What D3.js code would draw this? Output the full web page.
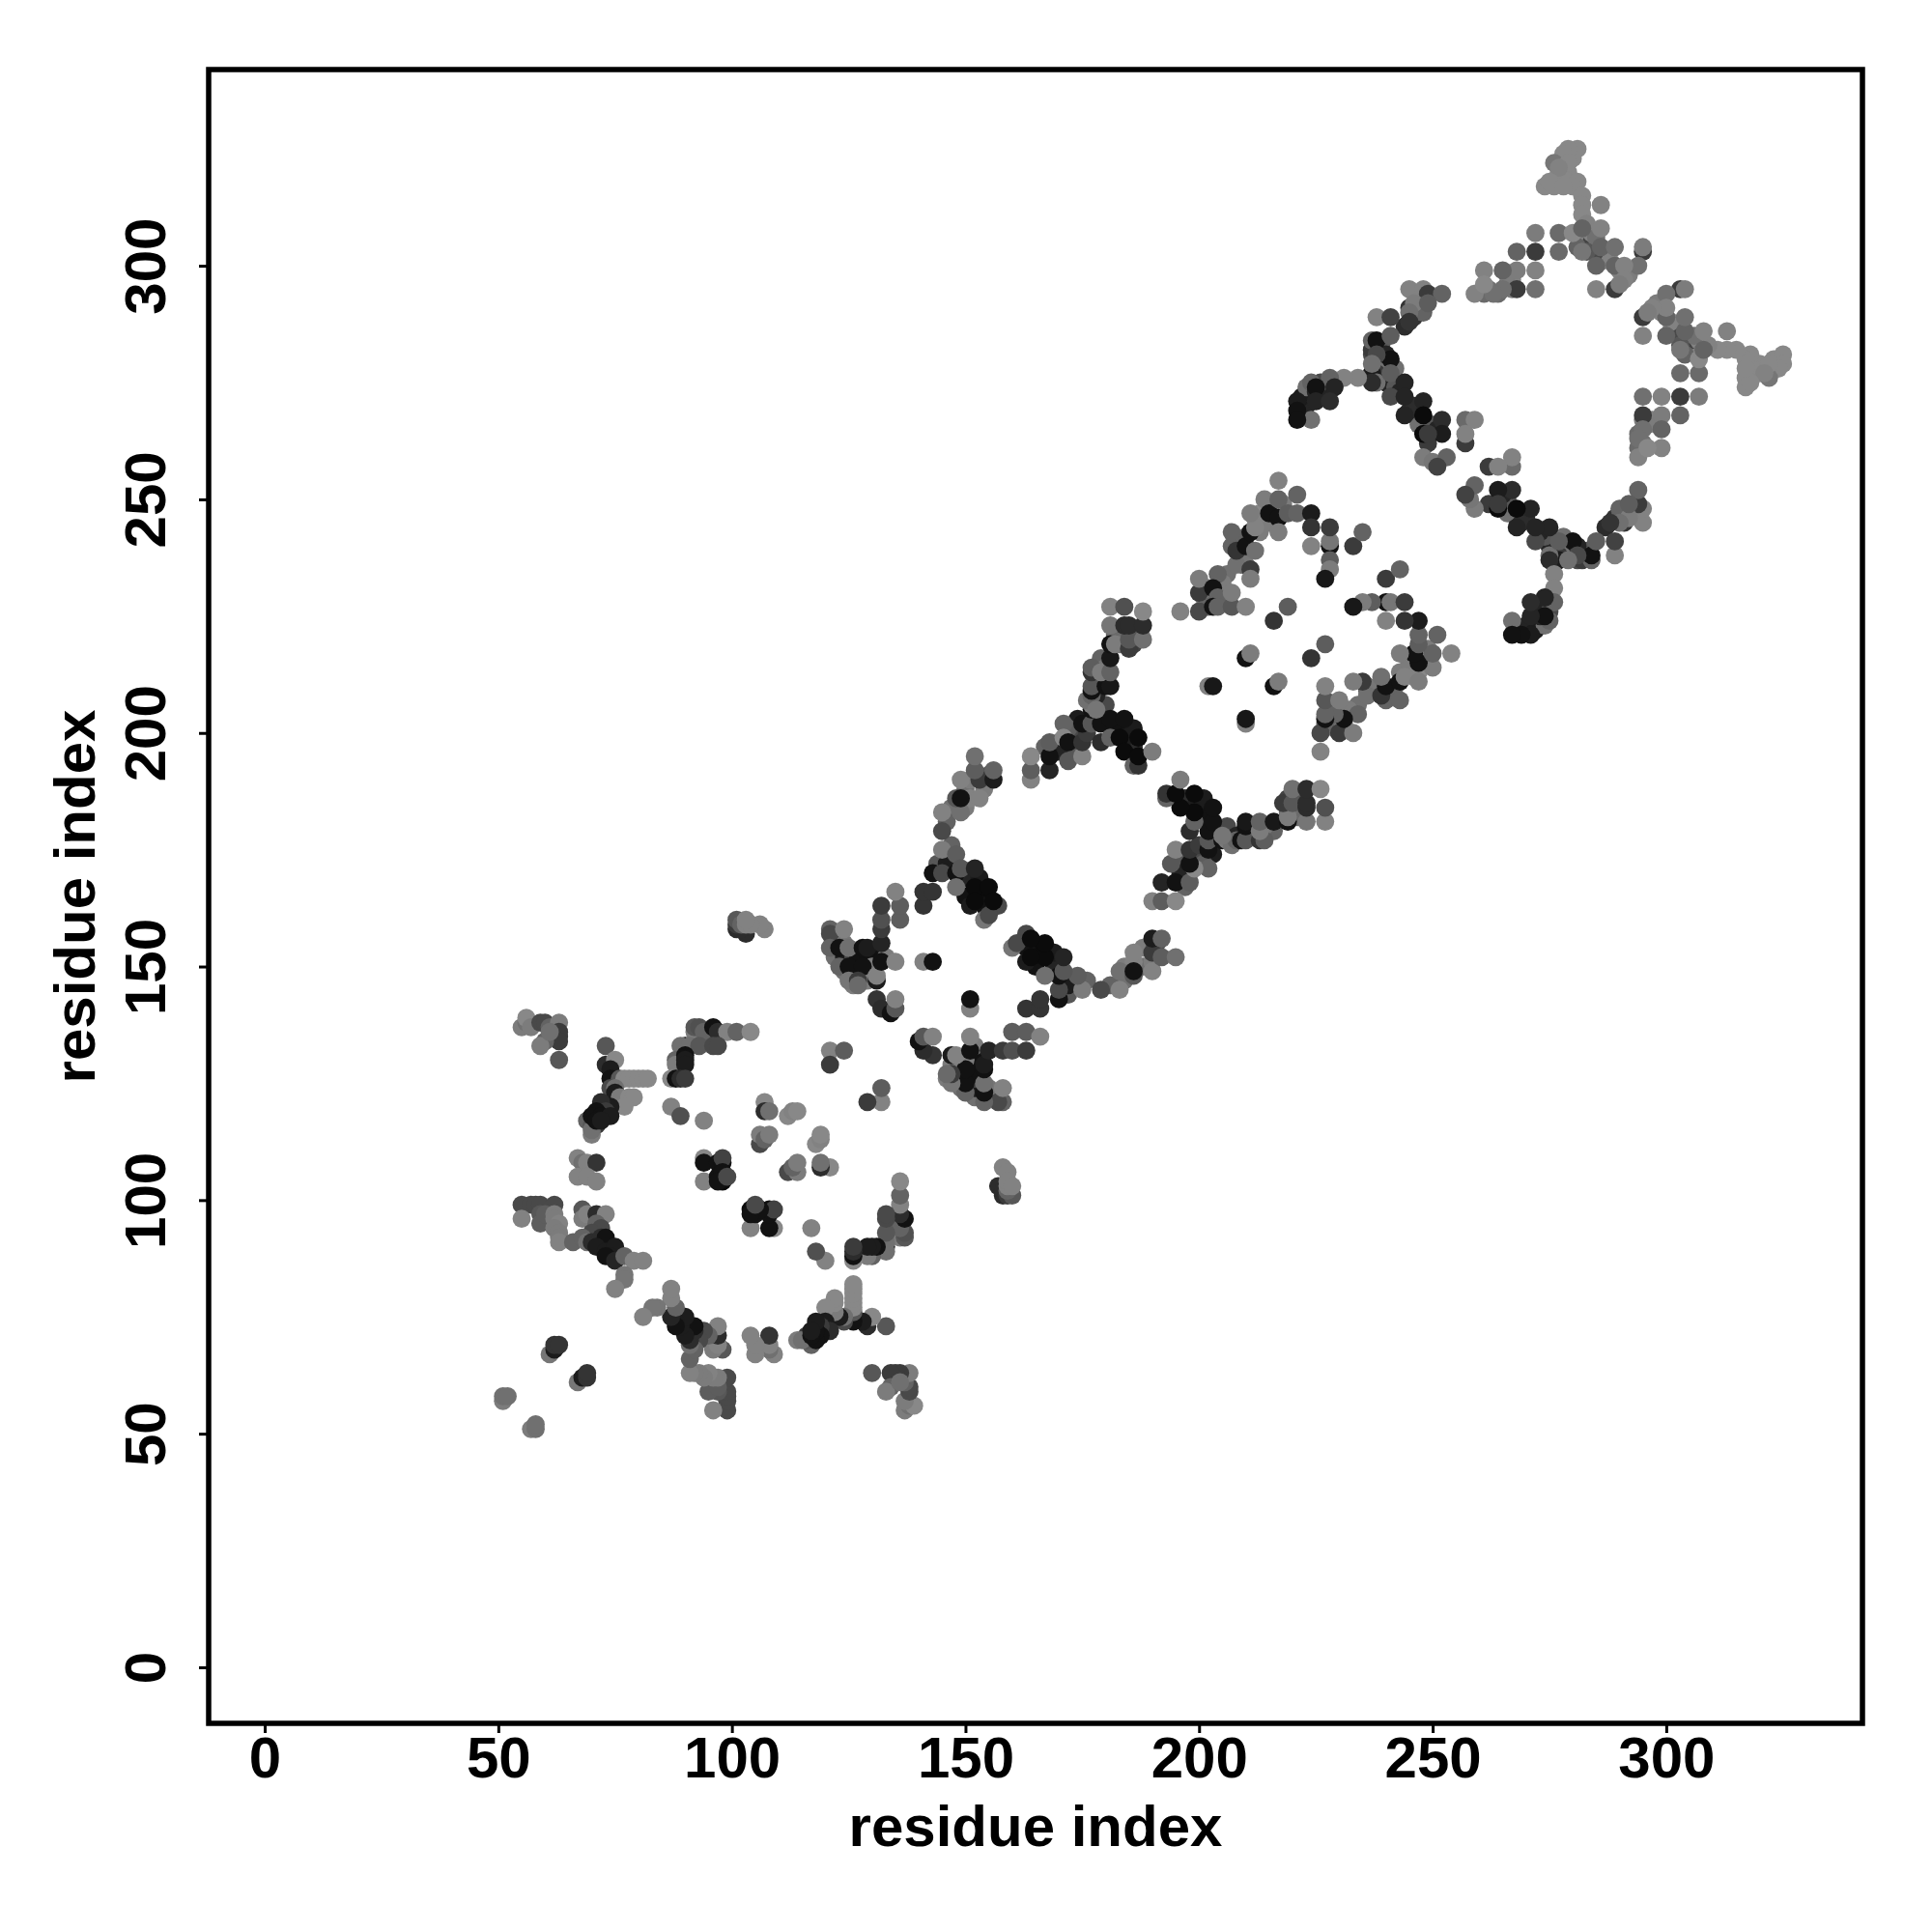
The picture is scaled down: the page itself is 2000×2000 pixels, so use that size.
<!DOCTYPE html>
<html><head><meta charset="utf-8">
<script src="https://cdn.jsdelivr.net/npm/d3@7/dist/d3.min.js"></script>
<style>html,body{margin:0;background:#fff}svg{display:block}text{font-family:"Liberation Sans",Arial,sans-serif;font-weight:bold;fill:#000}</style>
</head><body><svg id="c" width="2000" height="2000"></svg>
<script>
const tickValues=[0,50,100,150,200,250,300];
const axisLabel="residue index";
// upper-triangle contacts [residue i, residue j, shade 0 (black) .. 1 (light grey)]; the map is symmetric
const blockA=[[55,137,.8],[56,138,.7],[56,139,.9],[57,137,.8],[59,138,.4],[60,138,.4],[61,137,.6],[63,138,.8],[63,136,.3],[63,135,.3],[63,134,.3],[60,134,.6],[59,133,.8],[63,130,.5],[61,136,.7],
[73,133,.5],[73,129,.2],[75,130,.9],[74,128,.1],[74,126,.05],[76,126,.5],[77,126,.9],[78,126,.9],[79,126,.9],[80,126,.9],[81,126,.9],[82,126,.9],[74,124,.4],[75,124,.7],[75,123,.1],[76,122,.8],[78,122,.9],[79,122,.9],[77,120,.9],[74,120,.1],[72,121,.2],[73,119,.3],[71,119,.05],[69,117,.6],[70,116,.5],[71,116,.3],[70,114,.8],[70,115,.7],[70,118,.05],[72,118,.05],[74,118,.1],[71,117,.05],[72,117,.1]];
const blockB=[[92,136,.8],[92,137,.5],[93,137,.45],[94,136,.6],[96,137,.05],[97,136,.2],[99,136,.85],[101,136,.6],[104,136,.9],[90,133,.05],[89,133,.7],[91,133,.7],[93,133,.5],[96,133,.4],[97,133,.4],[88,130,.6],[88,129,.8],[90,131,.05],[90,130,.1],[90,129,.1],[87,126,.9],[88,126,.05],[89,126,.2],[90,126,.3],[87,120,.85],[89,118,.45],[94,117,.85],
[67,109,.85],[68,108,.7],[69,108,.85],[71,108,.25],[67,105,.85],[69,105,.85],[71,104,.85],
[94,109,.9],[94,108,.05],[94,104,.85],[97,108,.05],[98,108,.05],[98,109,.35],[97,105,.05],[98,106,.05],[98,104,.02],[97,104,.05],[99,105,.4],
[107,121,.9],[107,119,.2],[108,119,.7],[112,118,.9],[113,119,.85],[114,119,.9],[106,112,.4],[106,114,.8],[107,113,.6],[108,114,.8],[121,132,.85],[124,132,.55],[121,129,.3]];
const blockC=[[55,99,.4],[57,99,.4],[58,99,.4],[59,99,.4],[62,99,.4],[55,96,.85],[59,97,.5],[59,95,.55],[60,97,.55],[62,97,.8],[62,96,.8],[63,95,.85],[62,94,.8],[63,93,.8],[63,92,.8],[63,91,.85],[66,91,.6],
[68,98,.5],[68,96,.8],[69,97,.85],[71,97,.2],[73,97,.85],[71,95,.6],[72,94,.4],[70,93,.4],[68,92,.6],[69,91,.7],[70,91,.2],[72,92,.2],[73,92,.05],[71,90,.1],[73,89,.1],[75,90,.1],[74,88,.1],[73,88,.05],[75,87,.15],[77,88,.6],[79,87,.85],[81,87,.85],[77,84,.75],[77,83,.75],[75,81,.85],
[51,57,.8],[51,58,.7],[52,58,.7],[61,67,.75],[62,68,.1],[62,69,.25],[63,69,.25],
[107,158,.85],[106,159,.85],[103,157,.2],[101,158,.2],[102,158,.2],[101,159,.3],[101,160,.5],[102,159,.6],[103,159,.85],[104,159,.85],[103,160,.85]];
const blockD=[[122,156,.65],[123,156,.8],[124,155,.75],[122,152,.7],[124,152,.1],[126,152,.4],[127,152,.05],[130,152,.05],[126,148,.75],[128,148,.05],[129,149,.1],[124,149,.7],[130,150,.8],[126,146,.8],[129,147,.8],[133,152,.8],
[121,158,.6],[121,157,.4],[124,158,.85],[121,154,.6],[123,154,.05],[125,154,.7],[128,154,.05],[129,154,.1],[123,150,.6],[125,150,.05],[128,150,.05],[125,147,.75],[127,147,.3],[127,146,.65],[131,147,.1],[131,148,.85],[132,151,.05],[135,151,.85],[132,155,.15],[132,158,.3],[132,160,.45],[136,160,.55],[132,163,.3],[136,163,.55],[135,166,.85],
[131,143,.25],[132,141,.2],[134,140,.05],[135,141,.5],[135,143,.85],[141,151,.85],[143,151,.05],
[147,176,.6],[144,172,.5],[146,172,.1],[150,169,.15],[153,169,.1],[150,165,.05],[153,165,.02],[154,163,.05],[157,163,.4],
[141,163,.25],[141,166,.25],[143,166,.25],[143,170,.05],[145,170,.4],[145,175,.8],[148,174,.55],[148,170,.05],[149,171,.5],[148,167,.7],[152,171,.15],[152,167,.02],[155,167,.02],[151,163,.1],[152,164,.02],[154,160,.75],[155,161,.4],[156,164,.02],
[150,188,.7],[151,190,.8],[147,184,.7],[146,181,.6],[150,184,.8],[154,188,.8],[155,191,.45],[151,186,.85],
[145,179,.4],[145,183,.85],[149,183,.7],[148,186,.5],[149,186,.05],[153,186,.85],[149,190,.85],[153,190,.3],[152,192,.55],[156,190,.1],[156,192,.6],[152,195,.7],
[173,197,.5],[174,200,.6],[175,200,.4],[176,202,.6],[174,203,.1],[172,201,.55],[171,202,.6],[170,198,.6],[169,196,.3],[167,197,.6],[170,196,.15],
[164,190,.85],[164,192,.55],[164,195,.9],[168,192,.15],[168,195,.05],[168,198,.55],[171,199,.9],[172,198,.05],[172,194,.5],[175,195,.85],[175,198,.25]];
const blockE=[[178,203,.4],[176,200,.3],[182,201,.1],[183,202,.05],[185,198,.05],[186,197,.2],[184,199,.1],[186,201,.1],
[175,202,.05],[177,202,.5],[177,205,.05],[177,206,.8],[179,202,.05],[179,198,.2],[180,206,.4],[181,199,.6],[181,203,.05],[183,199,.02],[184,203,.05],[184,196,.02],[186,193,.6],[187,193,.25],[187,195,.02],[187,199,.02],[190,196,.8],
[178,211,.2],[178,208,.15],[176,207,.7],[177,208,.6],[178,205,.75],[179,216,.6],[180,214,.75],[182,221,.65],[183,219,.7],[186,219,.35],[187,222,.7],[186,221,.5],
[177,209,.05],[177,210,.5],[180,210,.05],[181,210,.08],[177,213,.25],[177,214,.55],[179,213,.8],[181,213,.6],[181,216,.08],[181,219,.05],[182,219,.8],[185,218,.3],[185,220,.5],[188,220,.7],[181,223,.75],[184,223,.2],[185,223,.2],[188,223,.2],[181,227,.85],[184,227,.45],[188,226,.9],
[205,233,.6],[206,234,.7],[209,236,.6],[209,238,.7],[210,242,.6],[213,245,.8],[213,243,.8],[214,246,.85],[215,245,.8],[216,248,.7],[218,249,.8],[201,229,.7],[202,231,.75],[202,227,.6],[205,230,.5],[206,228,.6],[205,232,.8],[210,236,.75],[213,247,.9],[212,246,.85],
[196,226,.85],[200,226,.4],[200,230,.3],[200,233,.8],[204,234,.6],[203,231,.05],[204,229,.6],[203,227,.05],[204,227,.6],[207,227,.5],[210,227,.85],[207,230,.8],[208,236,.7],[211,235,.3],[211,233,.8],[207,240,.6],[208,239,.25],[210,240,.05],[212,239,.7],[207,243,.6],[211,243,.05],[212,244,.85],[211,247,.8],[214,250,.8],[215,247,.05],[217,246,.05],[217,243,.8],[217,250,.6],[217,254,.85],[219,247,.55],[221,247,.6],[221,251,.6],[224,247,.1],[224,244,.25],[224,240,.85],[228,240,.05],[228,241,.75],[228,244,.3],[228,237,.55],[228,235,.8],[227,233,.08],[233,240,.3],[235,243,.6],
[219,227,.55],[216,224,.25],[210,216,.05],[211,217,.8],[202,210,.85],[203,210,.08]];
const blockF=[[277,320,.9],[278,319,.9],[279,320,.9],[280,323,.9],[279,318,.9],[281,318,.9],[276,317,.9],[280,317,.9],[278,322,.85],
[281,325,.9],[279,325,.9],[278,324,.9],[276,322,.75],[279,322,.9],[277,321,.85],[274,317,.9],[275,318,.9],[278,317,.9],[282,315,.9],[282,313,.9],[282,311,.9],[286,313,.85],
[283,309,.85],[283,306,.85],[284,305,.35],[285,303,.5],[287,302,.6],[286,301,.4],[288,301,.85],[290,299,.85],[292,298,.8],[284,307,.85],[285,306,.7],[281,304,.6],[283,303,.5],
[272,307,.8],[277,307,.65],[280,307,.9],[282,308,.6],[286,308,.85],[282,303,.75],[277,303,.65],[272,303,.3],[268,303,.6],[286,304,.6],[289,304,.7],[295,303,.3],[295,304,.8],[285,300,.6],[289,300,.6],[294,300,.7],[291,300,.85],[291,297,.85],[289,295,.3],[290,296,.8],[285,295,.85],
[262,295,.7],[264,294,.65],[266,296,.7],[267,295,.8],[267,297,.85],[266,298,.8],
[272,299,.85],[268,299,.8],[265,299,.6],[261,299,.85],[268,295,.3],[272,295,.7],[265,295,.7],[261,294,.65],[259,294,.85],[263,294,.7],[261,296,.9],
[246,289,.25],[246,290,.7],[248,293,.8],[247,291,.8],[248,290,.6],[247,294,.85],[244,287,.2],
[245,295,.85],[248,295,.85],[249,294,.3],[252,294,.6],[245,291,.25],[246,292,.8],[249,292,.55],[245,290,.7],[238,289,.85],[241,289,.35],[245,288,.25],
[238,279,.7],[239,276,.6],[238,277,.3],[240,275,.15],[239,283,.5],[240,281,.15],[242,274,.5],[243,273,.15],[246,270,.2],[246,268,.3],[247,266,.7],[250,266,.5],[251,265,.15],[249,262,.3],[245,269,.2],[242,278,.7],[237,277,.1],[238,275,.7],[237,281,.4],[237,282,.3],
[237,284,.6],[238,284,.05],[241,285,.55],[241,280,.05],[238,281,.4],[237,279,.7],[237,275,.2],[241,277,.55],[241,272,.4],[244,275,.15],[244,272,.15],[248,271,.15],[244,268,.15],[248,268,.02],[252,267,.2],[252,264,.1],[248,264,.02],[249,264,.3],[248,259,.8],[250,258,.75],[253,259,.6],[251,257,.35],
[223,270,.15],[224,273,.05],[226,272,.2],[227,272,.15],[222,272,.1],[223,274,.7],[226,275,.4],[224,275,.6],[225,273,.15],
[234,276,.85],[231,276,.85],[228,276,.6],[225,274,.05],[229,274,.15],[224,267,.7],[221,271,.1],[225,271,.15],[228,271,.2],[221,269,.05],[221,267,.05],
[257,267,.65],[259,267,.85],[257,262,.3],[257,264,.85]];
const blocks=[blockA,blockB,blockC,blockD,blockE,blockF];

const svg=d3.select("#c");
const x=d3.scaleLinear().domain([-12,342]).range([216,1928]);
const y=d3.scaleLinear().domain([-12,342]).range([1784,72]);
const tone=d3.scalePow().exponent(0.8).domain([0,1]).range([0,1]);
const grey=s=>d3.interpolateRgb("#050505","#939393")(tone(s));

blocks.forEach(b=>{
  const pts=b.flatMap(d=>[d,[d[1],d[0],d[2]]]);
  svg.append("g").selectAll("circle").data(pts).join("circle")
    .attr("cx",d=>x(d[0])).attr("cy",d=>y(d[1])).attr("r",9.4).attr("fill",d=>grey(d[2]));
});

svg.append("rect").attr("x",x.range()[0]).attr("y",y.range()[1])
  .attr("width",x.range()[1]-x.range()[0]).attr("height",y.range()[0]-y.range()[1])
  .attr("fill","none").attr("stroke","#000").attr("stroke-width",5.5);

const gx=svg.append("g").attr("transform","translate(0,1784)")
  .call(d3.axisBottom(x).tickValues(tickValues).tickSize(10).tickSizeOuter(0));
const gy=svg.append("g").attr("transform","translate(216,0)")
  .call(d3.axisLeft(y).tickValues(tickValues).tickSize(10).tickSizeOuter(0));
[gx,gy].forEach(g=>{g.select(".domain").remove();g.selectAll("line").attr("stroke","#000").attr("stroke-width",3);
  g.selectAll("text").attr("font-size",60).style("font-family",'"Liberation Sans"').style("font-weight","bold").attr("fill","#000");});
gx.selectAll("text").attr("dy",null).attr("y",56).attr("text-anchor","middle");
gy.selectAll("text").attr("dy",null).attr("x",null).attr("y",null)
  .attr("text-anchor","middle").attr("transform",d=>`translate(-45,0) rotate(-90)`);
svg.append("text").attr("x",1072).attr("y",1911).attr("text-anchor","middle").attr("font-size",60).text(axisLabel);
svg.append("text").attr("transform","translate(98,928) rotate(-90)").attr("text-anchor","middle").attr("font-size",60).text(axisLabel);
</script></body></html>
